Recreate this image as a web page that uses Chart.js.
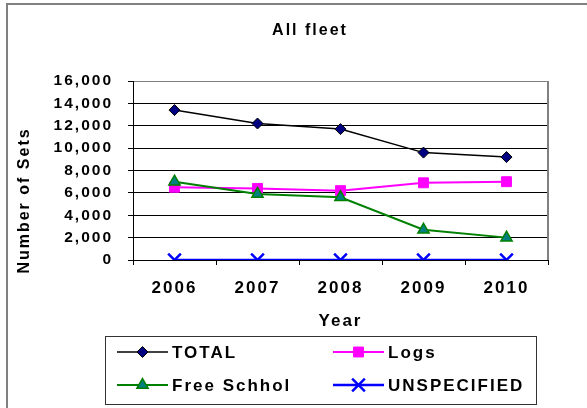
<!DOCTYPE html>
<html>
<head>
<meta charset="utf-8">
<script src="https://cdn.jsdelivr.net/npm/chart.js@4.4.1/dist/chart.umd.min.js"></script>
<style>
  html, body { margin: 0; padding: 0; background: #fff; }
  canvas { display: block; }
</style>
</head>
<body>
<canvas id="chart" width="587" height="408"></canvas>
<script>
// data
const years = ["2006", "2007", "2008", "2009", "2010"];
const total = [13400, 12200, 11700, 9600, 9200];
const logs = [6500, 6400, 6200, 6900, 7000];
const freeSchool = [7000, 5900, 5600, 2700, 2000];
const unspecified = [0, 0, 0, 0, 0];
const yTicks = [0, 2000, 4000, 6000, 8000, 10000, 12000, 14000, 16000];

const chartTitle = "All fleet";
const yTitle = "Number of Sets";
const xTitle = "Year";

const FONT = "'Liberation Sans', Arial, sans-serif";

// spacing between letters, like the original rendering
const spacingPlugin = {
    id: "spacing",
    beforeUpdate(chart) { chart.ctx.letterSpacing = "2px"; },
    beforeDraw(chart) { chart.ctx.letterSpacing = "2px"; }
};

// grey outer frame, white background, plot frame, titles
const framePlugin = {
    id: "frame",
    beforeDraw(chart) {
        const ctx = chart.ctx;
        ctx.save();
        ctx.fillStyle = "#fff";
        ctx.fillRect(0, 0, chart.width, chart.height);
        ctx.strokeStyle = "#808080";
        ctx.lineWidth = 2;
        ctx.beginPath();
        ctx.moveTo(7, chart.height);
        ctx.lineTo(7, 4);
        ctx.lineTo(chart.width, 4);
        ctx.stroke();
        ctx.restore();
    },
    beforeDatasetsDraw(chart) {
        // right edge of the plot area
        const a = chart.chartArea;
        const ctx = chart.ctx;
        ctx.save();
        ctx.strokeStyle = "#808080";
        ctx.lineWidth = 2;
        ctx.beginPath();
        ctx.moveTo(a.right, a.top);
        ctx.lineTo(a.right, a.bottom);
        ctx.stroke();
        ctx.restore();
    },
    afterDraw(chart) {
        const ctx = chart.ctx;
        const a = chart.chartArea;
        ctx.save();
        ctx.letterSpacing = "2px";
        ctx.fillStyle = "#000";
        ctx.textAlign = "center";
        ctx.textBaseline = "middle";
        // chart title, sits a bit left of the plot centre
        ctx.font = "bold 16px " + FONT;
        ctx.fillText(chartTitle, a.left + 177, 31);
        // y title, shifted down like the original
        ctx.translate(25, (a.top + a.bottom) / 2 + 30);
        ctx.rotate(-Math.PI / 2);
        ctx.fillText(yTitle, 0, 0);
        ctx.restore();
    }
};

// boxed 2x2 legend under the x axis title
const boxLegend = {
    id: "boxLegend",
    afterDraw(chart) {
        const ctx = chart.ctx;
        const a = chart.chartArea;
        const left = a.left - 28, top = chart.scales.x.bottom + 2;
        const w = 431, h = 68;
        ctx.save();
        ctx.letterSpacing = "2px";
        ctx.strokeStyle = "#333";
        ctx.lineWidth = 1;
        ctx.strokeRect(left + 0.5, top + 0.5, w, h);
        const cols = [left + 12, left + 228];
        const rows = [top + 16, top + 49];
        ctx.font = "bold 17px " + FONT;
        ctx.textBaseline = "middle";
        chart.data.datasets.forEach((ds, i) => {
            const x = cols[i % 2], y = rows[Math.floor(i / 2)];
            ctx.strokeStyle = ds.borderColor;
            ctx.lineWidth = ds.borderWidth;
            ctx.beginPath();
            ctx.moveTo(x, y);
            ctx.lineTo(x + 51, y);
            ctx.stroke();
            ctx.fillStyle = ds.pointBackgroundColor;
            ctx.strokeStyle = ds.pointBorderColor;
            ctx.lineWidth = ds.pointBorderWidth;
            Chart.helpers.drawPoint(ctx, {
                pointStyle: ds.pointStyle,
                radius: ds.pointRadius,
                borderWidth: ds.pointBorderWidth,
                rotation: 0
            }, x + 25.5, y);
            ctx.fillStyle = "#000";
            ctx.fillText(ds.label, x + 55, y + 1);
        });
        ctx.restore();
    }
};

const tickFont = { family: FONT, weight: "bold", size: 17 };

new Chart(document.getElementById("chart"), {
    type: "line",
    data: {
        labels: years,
        datasets: [{
            label: "TOTAL",
            data: total,
            borderColor: "#000",
            borderWidth: 1.5,
            pointStyle: "rectRot",
            pointRadius: 5.5,
            pointBackgroundColor: "#000080",
            pointBorderColor: "#000",
            pointBorderWidth: 1,
            order: 4
        }, {
            label: "Logs",
            data: logs,
            borderColor: "#ff00ff",
            borderWidth: 2,
            pointStyle: "rect",
            pointRadius: 7,
            pointBackgroundColor: "#ff00ff",
            pointBorderColor: "#ff00ff",
            pointBorderWidth: 1,
            order: 3
        }, {
            label: "Free Schhol",
            data: freeSchool,
            borderColor: "#008000",
            borderWidth: 2,
            pointStyle: "triangle",
            pointRadius: 6.5,
            pointBackgroundColor: "#008080",
            pointBorderColor: "#008000",
            pointBorderWidth: 1.5,
            order: 2
        }, {
            label: "UNSPECIFIED",
            data: unspecified,
            borderColor: "#0000ff",
            borderWidth: 2.5,
            pointStyle: "crossRot",
            pointRadius: 9,
            pointBackgroundColor: "#0000ff",
            pointBorderColor: "#0000ff",
            pointBorderWidth: 2.5,
            order: 1
        }]
    },
    options: {
        responsive: false,
        animation: false,
        layout: { padding: { left: 11, right: 39, top: 81, bottom: 74 } },
        plugins: {
            legend: { display: false },
            tooltip: { enabled: false },
            title: { display: false }
        },
        scales: {
            x: {
                offset: true,
                grid: {
                    offset: true,
                    drawOnChartArea: false,
                    color: "#000",
                    tickLength: 5
                },
                border: { color: "#000", width: 1 },
                ticks: { color: "#000", font: tickFont, padding: 13, maxRotation: 0 },
                title: {
                    display: true,
                    text: xTitle,
                    color: "#000",
                    font: tickFont,
                    padding: { top: 4, bottom: 2 }
                },
                afterFit(scale) { scale.height = 74; }
            },
            y: {
                min: 0,
                max: 16000,
                afterBuildTicks(scale) { scale.ticks = yTicks.map(v => ({ value: v })); },
                grid: {
                    color: c => (c.tick && c.tick.value === 16000) ? "#808080" : "#000",
                    tickColor: "#000",
                    tickLength: 5
                },
                border: { color: "#000", width: 1 },
                ticks: {
                    color: "#000",
                    font: { family: FONT, weight: "bold", size: 15.5 },
                    padding: 15,
                    callback: v => v.toLocaleString("en-US")
                },
                afterFit(scale) { scale.width = 122; }
            }
        }
    },
    plugins: [spacingPlugin, framePlugin, boxLegend]
});
</script>
</body>
</html>
